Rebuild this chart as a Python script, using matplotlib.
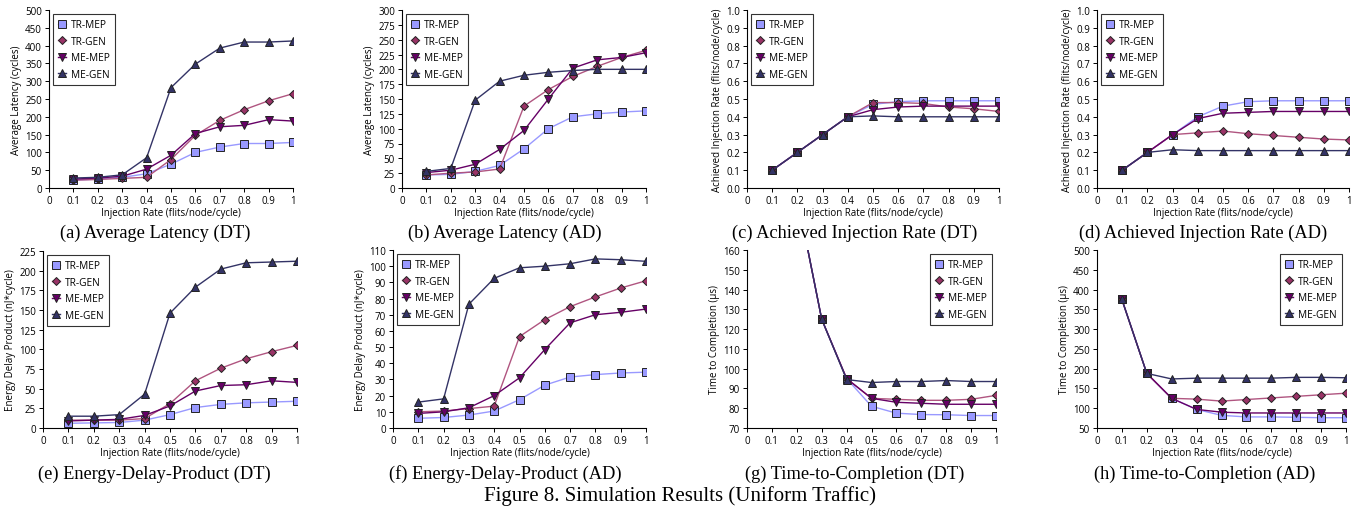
import matplotlib
matplotlib.use("Agg")
import matplotlib.pyplot as plt

rates = [0.1, 0.2, 0.3, 0.4, 0.5, 0.6, 0.7, 0.8, 0.9, 1.0]
x_ticks = [0, 0.1, 0.2, 0.3, 0.4, 0.5, 0.6, 0.7, 0.8, 0.9, 1]
x_tick_labels = ["0", "0.1", "0.2", "0.3", "0.4", "0.5", "0.6", "0.7", "0.8", "0.9", "1"]
series_names = ["TR-MEP", "TR-GEN", "ME-MEP", "ME-GEN"]

# (a) average latency, DT
lat_dt_tr_mep = [22, 25, 30, 40, 67, 100, 115, 125, 125, 128]
lat_dt_tr_gen = [22, 24, 27, 30, 80, 148, 190, 220, 245, 265]
lat_dt_me_mep = [25, 28, 33, 53, 92, 153, 172, 176, 192, 188]
lat_dt_me_gen = [28, 30, 37, 85, 282, 348, 393, 410, 410, 413]

# (b) average latency, AD
lat_ad_tr_mep = [22, 23, 28, 38, 66, 100, 120, 125, 128, 130]
lat_ad_tr_gen = [22, 25, 27, 32, 138, 166, 188, 205, 220, 232]
lat_ad_me_mep = [26, 30, 40, 65, 97, 150, 202, 216, 220, 228]
lat_ad_me_gen = [28, 33, 148, 180, 190, 195, 198, 200, 200, 200]

# (c) achieved injection rate, DT
air_dt_tr_mep = [0.1, 0.2, 0.3, 0.4, 0.47, 0.485, 0.49, 0.49, 0.49, 0.49]
air_dt_tr_gen = [0.1, 0.2, 0.3, 0.4, 0.48, 0.48, 0.475, 0.455, 0.445, 0.43]
air_dt_me_mep = [0.1, 0.2, 0.3, 0.4, 0.44, 0.455, 0.46, 0.46, 0.46, 0.46]
air_dt_me_gen = [0.1, 0.2, 0.3, 0.4, 0.405, 0.40, 0.40, 0.40, 0.40, 0.40]

# (d) achieved injection rate, AD
air_ad_tr_mep = [0.1, 0.2, 0.3, 0.4, 0.46, 0.485, 0.49, 0.49, 0.49, 0.49]
air_ad_tr_gen = [0.1, 0.2, 0.3, 0.31, 0.32, 0.305, 0.295, 0.285, 0.275, 0.27]
air_ad_me_mep = [0.1, 0.2, 0.3, 0.39, 0.42, 0.425, 0.43, 0.43, 0.43, 0.43]
air_ad_me_gen = [0.1, 0.2, 0.215, 0.21, 0.21, 0.21, 0.21, 0.21, 0.21, 0.21]

# (e) energy-delay-product, DT
edp_dt_tr_mep = [6, 6.5, 7, 10, 17, 26, 30, 32, 33, 34]
edp_dt_tr_gen = [10, 10, 10, 12, 31, 60, 76, 88, 97, 105]
edp_dt_me_mep = [9, 10, 11, 16, 28, 47, 54, 55, 60, 58]
edp_dt_me_gen = [15, 15, 17, 43, 146, 179, 202, 210, 211, 212]

# (f) energy-delay-product, AD
edp_ad_tr_mep = [6, 6.5, 8, 10.5, 17.5, 26.5, 31.5, 33, 34, 34.5]
edp_ad_tr_gen = [10, 10.5, 12, 13.5, 56.5, 67, 75, 81, 86.5, 91]
edp_ad_me_mep = [9, 10, 12.5, 20, 31, 48.5, 65, 70, 71.5, 73.5]
edp_ad_me_gen = [16, 18, 76.5, 92.5, 99, 100, 101.5, 104.5, 104, 103]

# (g) time to completion, DT
ttc_dt_tr_mep = [375, 188, 125, 95, 81, 77.5, 76.8, 76.7, 76.3, 76.3]
ttc_dt_tr_gen = [375, 188, 125, 95, 85, 84.5, 84, 84, 84.5, 86.5]
ttc_dt_me_mep = [375, 188, 125, 95, 85, 83, 82.5, 82, 82, 82]
ttc_dt_me_gen = [375, 188, 125, 94.5, 93, 93.5, 93.5, 94, 93.5, 93.5]

# (h) time to completion, AD
ttc_ad_tr_mep = [375, 188, 125, 97, 82, 78, 78, 77, 76, 76]
ttc_ad_tr_gen = [375, 188, 125, 123, 118, 122, 126, 130, 134, 138]
ttc_ad_me_mep = [375, 188, 125, 97, 90, 88, 88, 88, 88, 88]
ttc_ad_me_gen = [375, 188, 174, 176, 176, 176, 176, 178, 178, 177]

W, H = 1359, 510

styles = [
    dict(marker="s", color="#9999ff", mfc="#9999ff"),
    dict(marker="D", color="#b05580", mfc="#993366", ms=4.0),
    dict(marker="v", color="#660066", mfc="#660066"),
    dict(marker="^", color="#333366", mfc="#333366"),
]


def panel(fig, box, data, yticks, ylim, ylabel, caption, cap_x, cap_y,
          legend_loc, fmt="{:g}"):
    left, right, top, bottom = box
    ax = fig.add_axes([left / W, 1 - bottom / H, (right - left) / W, (bottom - top) / H])
    for name, ys, st in zip(series_names, data, styles):
        ax.plot(rates, ys, label=name, linewidth=1.0, color=st["color"],
                marker=st["marker"], markersize=st.get("ms", 5.2),
                markerfacecolor=st["mfc"], markeredgecolor="#222222",
                markeredgewidth=0.7)
    ax.set_xlim(0, 1)
    ax.set_ylim(*ylim)
    ax.set_xticks(x_ticks)
    ax.set_xticklabels(x_tick_labels)
    ax.set_yticks(yticks)
    ax.set_yticklabels([fmt.format(v) for v in yticks])
    ax.spines["top"].set_visible(False)
    ax.spines["right"].set_visible(False)
    ax.spines["left"].set_linewidth(0.8)
    ax.spines["bottom"].set_linewidth(0.8)
    ax.tick_params(labelsize=7, length=3, width=0.7, pad=2)
    ax.set_xlabel("Injection Rate (flits/node/cycle)", fontsize=7, labelpad=1)
    ax.set_ylabel(ylabel, fontsize=7, labelpad=2)
    leg = ax.legend(loc=legend_loc, fontsize=7.3, frameon=True, fancybox=False,
                    edgecolor="black", borderpad=0.5, labelspacing=0.55,
                    handlelength=0.8, handletextpad=0.5, borderaxespad=0.4)
    leg.get_frame().set_linewidth(0.8)
    fig.text(cap_x / W, 1 - cap_y / H, caption, ha="center", va="center",
             fontsize=13.2, family="Liberation Serif")
    return ax


def main():
    plt.rcParams["font.family"] = ["Open Sans", "DejaVu Sans"]
    fig = plt.figure(figsize=(W / 100, H / 100), dpi=100)

    panel(fig, (49, 293, 11, 189),
          [lat_dt_tr_mep, lat_dt_tr_gen, lat_dt_me_mep, lat_dt_me_gen],
          list(range(0, 501, 50)), (0, 500), "Average Latency (cycles)",
          "(a) Average Latency (DT)", 155, 233, "upper left")
    panel(fig, (402, 646, 11, 189),
          [lat_ad_tr_mep, lat_ad_tr_gen, lat_ad_me_mep, lat_ad_me_gen],
          list(range(0, 301, 25)), (0, 300), "Average Latency (cycles)",
          "(b) Average Latency (AD)", 505, 233, "upper left")
    panel(fig, (747, 999, 11, 189),
          [air_dt_tr_mep, air_dt_tr_gen, air_dt_me_mep, air_dt_me_gen],
          [i / 10 for i in range(11)], (0, 1.0),
          "Achieved Injection Rate (flits/node/cycle)",
          "(c) Achieved Injection Rate (DT)", 855, 233, "upper left", "{:.1f}")
    panel(fig, (1097, 1349, 11, 189),
          [air_ad_tr_mep, air_ad_tr_gen, air_ad_me_mep, air_ad_me_gen],
          [i / 10 for i in range(11)], (0, 1.0),
          "Achieved Injection Rate (flits/node/cycle)",
          "(d) Achieved Injection Rate (AD)", 1203, 233, "upper left", "{:.1f}")
    panel(fig, (43, 297, 252, 429),
          [edp_dt_tr_mep, edp_dt_tr_gen, edp_dt_me_mep, edp_dt_me_gen],
          list(range(0, 226, 25)), (0, 225), "Energy Delay Product (nJ*cycle)",
          "(e) Energy-Delay-Product (DT)", 154, 474, "upper left")
    panel(fig, (393, 646, 251, 429),
          [edp_ad_tr_mep, edp_ad_tr_gen, edp_ad_me_mep, edp_ad_me_gen],
          list(range(0, 111, 10)), (0, 110), "Energy Delay Product (nJ*cycle)",
          "(f) Energy-Delay-Product (AD)", 505, 474, "upper left")
    panel(fig, (747, 996, 251, 429),
          [ttc_dt_tr_mep, ttc_dt_tr_gen, ttc_dt_me_mep, ttc_dt_me_gen],
          list(range(70, 161, 10)), (70, 160), "Time to Completion (µs)",
          "(g) Time-to-Completion (DT)", 855, 474, "upper right")
    panel(fig, (1097, 1346, 251, 429),
          [ttc_ad_tr_mep, ttc_ad_tr_gen, ttc_ad_me_mep, ttc_ad_me_gen],
          list(range(50, 501, 50)), (50, 500), "Time to Completion (µs)",
          "(h) Time-to-Completion (AD)", 1205, 474, "upper right")

    fig.text(680 / W, 1 - 496 / H, "Figure 8. Simulation Results (Uniform Traffic)",
             ha="center", va="center", fontsize=15, family="Liberation Serif")
    fig.savefig("out.png", dpi=100)


if __name__ == "__main__":
    main()
